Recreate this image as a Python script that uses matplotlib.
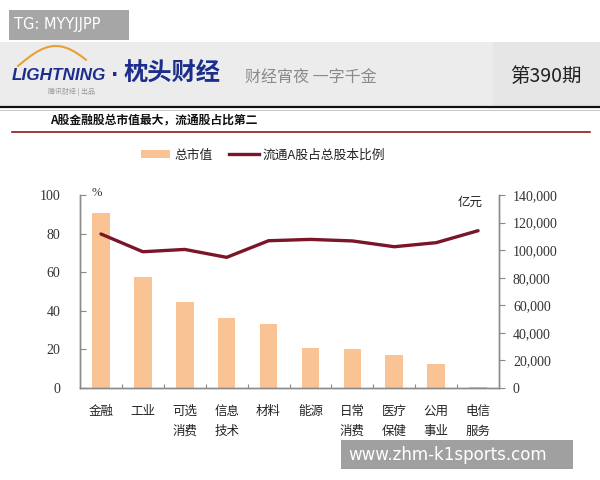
import matplotlib
matplotlib.use("Agg")
import matplotlib.pyplot as plt
from matplotlib.patches import Rectangle
from matplotlib.lines import Line2D
from matplotlib.ticker import FuncFormatter, FixedLocator, NullFormatter
import numpy as np

plt.rcParams['font.family'] = ['Noto Sans CJK SC', 'DejaVu Sans']

categories = ['金融', '工业', '可选\n消费', '信息\n技术', '材料', '能源',
              '日常\n消费', '医疗\n保健', '公用\n事业', '电信\n服务']
market_cap = [126700, 80500, 62400, 50800, 46600, 28800, 28000, 24200, 17400, 700]
float_ratio = [79.8, 70.6, 71.8, 67.7, 76.3, 77.0, 76.2, 73.2, 75.3, 81.5]
left_ticks = [0, 20, 40, 60, 80, 100]
right_ticks = [0, 20000, 40000, 60000, 80000, 100000, 120000, 140000]

W, H = 600, 480
fig = plt.figure(figsize=(6, 4.8), dpi=100)
fig.patch.set_facecolor('white')

def fx(px):
    return px / W

def fy(py):
    return 1 - py / H

# ---- header ----
fig.patches.append(Rectangle((fx(9), fy(40)), fx(120), 30 / H, transform=fig.transFigure,
                             facecolor='#a6a6a6', edgecolor='none'))
fig.text(fx(14), fy(25), 'TG: MYYJJPP', color='white', fontsize=10.5,
         family='DejaVu Sans', va='center', ha='left')
fig.patches.append(Rectangle((0, fy(106)), 1, 64 / H, transform=fig.transFigure,
                             facecolor='#ececec', edgecolor='none'))
fig.patches.append(Rectangle((fx(493), fy(106)), fx(107), 64 / H, transform=fig.transFigure,
                             facecolor='#e6e6e6', edgecolor='none'))
fig.add_artist(Line2D([0, 1], [fy(107), fy(107)], transform=fig.transFigure,
                      color='#111111', lw=1.6))
fig.add_artist(Line2D([0, 1], [fy(110), fy(110)], transform=fig.transFigure,
                      color='#bbbbbb', lw=0.6))
# logo arc
t = np.linspace(0, 1, 30)
arc_x = 18 + 68 * t
arc_y = 66 - 20 * np.sin(np.pi * t * 0.9)
fig.add_artist(Line2D(fx(arc_x), fy(arc_y), transform=fig.transFigure,
                      color='#e8a030', lw=1.5))
fig.text(fx(12), fy(75), 'LIGHTNING', color='#1c2d8c', fontsize=12.3,
         family='Liberation Sans', weight='bold', style='italic', va='center', ha='left')
fig.text(fx(48), fy(92), '腾讯财经 | 出品', color='#999999', fontsize=5, va='center', ha='left')
fig.text(fx(111), fy(75), '·', color='#1c2d8c', fontsize=14, family='DejaVu Sans',
         weight='bold', va='center', ha='left')
fig.text(fx(124), fy(74), '枕头财经', color='#1c2d8c', fontsize=17.5,
         weight='bold', va='center', ha='left')
fig.text(fx(245), fy(77), '财经宵夜 一字千金', color='#8a8a8a', fontsize=11.5,
         va='center', ha='left')
fig.text(fx(546), fy(76), '第390期', color='#222222', fontsize=14,
         va='center', ha='center')

# ---- subtitle ----
fig.text(fx(50), fy(120), 'A股金融股总市值最大，流通股占比第二', color='#111111',
         fontsize=8.5, weight='bold', va='center', ha='left')
fig.add_artist(Line2D([fx(12), fx(590)], [fy(132), fy(132)], transform=fig.transFigure,
                      color='#8b1a1a', lw=1.2))

# ---- chart ----
ax2 = fig.add_axes([fx(80), fy(388), fx(499) - fx(80), (388 - 195) / H])
ax = ax2.twinx()
ax.set_zorder(ax2.get_zorder() + 1)
ax.patch.set_visible(False)

x = np.arange(len(categories))
bar_color = '#f9c394'
line_color = '#7b1528'
bars = ax2.bar(x, market_cap, width=0.42, color=bar_color, edgecolor='none', zorder=2)
ax2.set_ylim(0, 140000)
ax2.set_xlim(-0.5, len(categories) - 0.5)
ln, = ax.plot(x, float_ratio, color=line_color, lw=2.4, solid_capstyle='round', zorder=3)
ax.set_ylim(0, 100)

# bars axis -> right side
ax2.yaxis.tick_right()
ax2.yaxis.set_label_position('right')
ax2.set_yticks(right_ticks)
ax2.yaxis.set_major_formatter(FuncFormatter(lambda v, p: f'{int(v):,}'))
ax2.tick_params(axis='y', direction='out', length=4, width=0.8, color='#888888',
                labelsize=10, labelcolor='#333333', pad=6)
# line axis -> left side
ax.yaxis.tick_left()
ax.set_yticks(left_ticks)
ax.tick_params(axis='y', direction='in', length=4, width=0.8, color='#888888',
               labelsize=10, labelcolor='#333333', pad=14)
for lab in ax.get_yticklabels() + ax2.get_yticklabels():
    lab.set_family('Liberation Serif')

# x axis
ax2.set_xticks(x)
ax2.set_xticklabels(categories, fontsize=9, color='#222222', linespacing=1.75, va='top')
ax2.tick_params(axis='x', which='major', length=0, pad=12)
ax2.xaxis.set_minor_locator(FixedLocator(np.arange(0.5, len(categories) - 0.5, 1)))
ax2.xaxis.set_minor_formatter(NullFormatter())
ax2.tick_params(axis='x', which='minor', direction='in', length=3, width=0.8, color='#888888')

for a in (ax, ax2):
    a.spines['top'].set_visible(False)
    for s in ('left', 'right', 'bottom'):
        a.spines[s].set_color('#8a8a8a')
        a.spines[s].set_linewidth(1.0)

fig.text(fx(92), fy(193), '%', fontsize=9, color='#333333', family='Liberation Serif',
         va='center', ha='left')
fig.text(fx(470), fy(202), '亿元', fontsize=9, color='#222222', va='center', ha='center')

# legend
handles = [Rectangle((0, 0), 1, 1, facecolor=bar_color, edgecolor='none'),
           Line2D([0], [0], color=line_color, lw=2.4)]
fig.legend(handles, ['总市值', '流通A股占总股本比例'], loc='center',
           bbox_to_anchor=(fx(263), fy(155)), ncol=2, frameon=False, fontsize=9.2,
           handlelength=2.3, handleheight=0.6, columnspacing=1.3, handletextpad=0.3,
           labelcolor='#222222')

# watermark
fig.patches.append(Rectangle((fx(341), fy(469)), fx(232), 29 / H, transform=fig.transFigure,
                             facecolor='#a0a0a0', edgecolor='none', zorder=10))
fig.text(fx(348), fy(455), 'www.zhm-k1sports.com', color='white', fontsize=12,
         family='DejaVu Sans', va='center', ha='left', zorder=11)

fig.savefig('out.png', dpi=100, facecolor='white')
